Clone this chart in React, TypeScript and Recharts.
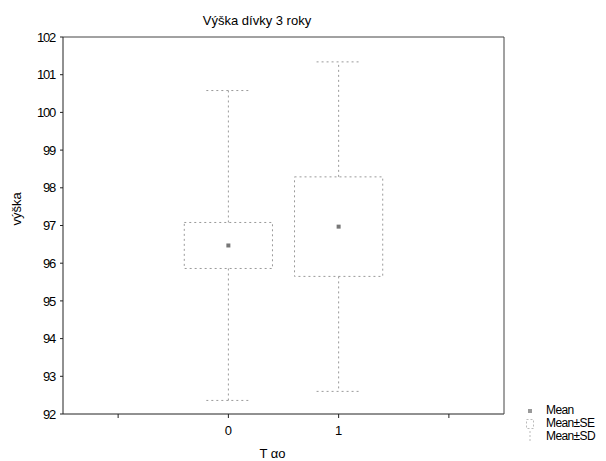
import React from 'react';
import { ComposedChart, XAxis, YAxis, Scatter, ReferenceArea, ReferenceLine } from 'recharts';

const categories = [0, 1];
const means = [96.47, 96.97];
const seValues = [0.61, 1.32];
const sdValues = [4.11, 4.37];
const yTicks = [92, 93, 94, 95, 96, 97, 98, 99, 100, 101, 102];
const xTicks = [-1, 0, 1, 2];
const xLabeled = [0, 1];
const legendItems = ['Mean', 'Mean±SE', 'Mean±SD'];

const rows = categories.map((c, i) => ({ x: c, mean: means[i], se: seValues[i], sd: sdValues[i] }));

const FONT = '"Liberation Sans", Arial, sans-serif';
const BOX_HALF = 0.4;
const CAP_HALF = 0.2;
const MARK = '#9a9a9a';

const MeanShape = (p: any) => (
  <rect x={p.cx - 2} y={p.cy - 2} width={4} height={4} fill="#777" />
);

const LegendIcon = ({ kind }: { kind: number }) => (
  <svg width={12} height={12} style={{ display: 'block' }}>
    {kind === 0 && <rect x={4} y={4} width={4} height={4} fill="#999" />}
    {kind === 1 && <rect x={2.5} y={1.5} width={7} height={9} fill="none" stroke="#bbb" strokeDasharray="2 2" />}
    {kind === 2 && <line x1={6} y1={0} x2={6} y2={12} stroke="#bbb" strokeDasharray="2 2" />}
  </svg>
);

export default function App() {
  return (
    <div style={{ position: 'absolute', left: 0, top: 0, width: 606, height: 461, background: '#fff', fontFamily: FONT }}>
      <ComposedChart width={606} height={461} data={rows} margin={{ top: 37, right: 102, bottom: 17, left: 17 }}>
        <XAxis
          xAxisId="b"
          type="number"
          dataKey="x"
          domain={[-1.5, 2.5]}
          ticks={xTicks}
          tickFormatter={(v: number) => (xLabeled.includes(v) ? String(v) : '')}
          allowDataOverflow
          height={30}
          stroke="#222"
          tickSize={4}
          tickMargin={8}
          tick={{ fill: '#000', fontSize: 13, fontFamily: FONT }}
          label={{ value: 'T αo', position: 'insideBottom', offset: -14, fill: '#000', fontSize: 13, fontFamily: FONT, dx: -11 }}
        />
        <XAxis
          xAxisId="t"
          orientation="top"
          type="number"
          dataKey="x"
          domain={[-1.5, 2.5]}
          ticks={xTicks}
          allowDataOverflow
          height={1}
          mirror
          tick={false}
          tickSize={4}
          stroke="#444"
        />
        <YAxis
          yAxisId="l"
          type="number"
          dataKey="mean"
          domain={[92, 102]}
          ticks={yTicks}
          allowDataOverflow
          width={46}
          stroke="#222"
          tickSize={3}
          tickMargin={5}
          interval={0}
          tick={{ fill: '#000', fontSize: 13, fontFamily: FONT, letterSpacing: -1.2 }}
          label={{ value: 'výška', angle: -90, position: 'insideLeft', offset: -1, fill: '#000', fontSize: 13, fontFamily: FONT }}
        />
        <YAxis
          yAxisId="r"
          orientation="right"
          type="number"
          domain={[92, 102]}
          ticks={yTicks}
          allowDataOverflow
          width={1}
          mirror
          tick={false}
          tickSize={4}
          stroke="#444"
        />
        {rows.map((r) => (
          <ReferenceArea
            key={'se' + r.x}
            xAxisId="b"
            yAxisId="l"
            x1={r.x - BOX_HALF}
            x2={r.x + BOX_HALF}
            y1={r.mean - r.se}
            y2={r.mean + r.se}
            fill="none"
            fillOpacity={0}
            stroke={MARK}
            strokeDasharray="2 3"
          />
        ))}
        {rows.map((r) => (
          <ReferenceLine
            key={'sdu' + r.x}
            xAxisId="b"
            yAxisId="l"
            segment={[{ x: r.x, y: r.mean + r.se }, { x: r.x, y: r.mean + r.sd }]}
            stroke={MARK}
            strokeDasharray="2 3"
          />
        ))}
        {rows.map((r) => (
          <ReferenceLine
            key={'sdl' + r.x}
            xAxisId="b"
            yAxisId="l"
            segment={[{ x: r.x, y: r.mean - r.se }, { x: r.x, y: r.mean - r.sd }]}
            stroke={MARK}
            strokeDasharray="2 3"
          />
        ))}
        {rows.map((r) => (
          <ReferenceLine
            key={'capu' + r.x}
            xAxisId="b"
            yAxisId="l"
            segment={[{ x: r.x - CAP_HALF, y: r.mean + r.sd }, { x: r.x + CAP_HALF, y: r.mean + r.sd }]}
            stroke={MARK}
            strokeDasharray="2 3"
          />
        ))}
        {rows.map((r) => (
          <ReferenceLine
            key={'capl' + r.x}
            xAxisId="b"
            yAxisId="l"
            segment={[{ x: r.x - CAP_HALF, y: r.mean - r.sd }, { x: r.x + CAP_HALF, y: r.mean - r.sd }]}
            stroke={MARK}
            strokeDasharray="2 3"
          />
        ))}
        <Scatter xAxisId="b" yAxisId="l" data={rows} dataKey="mean" shape={MeanShape} isAnimationActive={false} />
      </ComposedChart>
      <div style={{ position: 'absolute', left: 186, top: 13, width: 142, textAlign: 'center', fontSize: 13, color: '#000', whiteSpace: 'nowrap' }}>
        Výška dívky 3 roky
      </div>
      <div style={{ position: 'absolute', left: 524, top: 404, fontSize: 12, color: '#000', lineHeight: '13px' }}>
        {legendItems.map((t, i) => (
          <div key={t} style={{ display: 'flex', alignItems: 'center', height: 13 }}>
            <LegendIcon kind={i} />
            <span style={{ marginLeft: 10, letterSpacing: -0.6 }}>{t}</span>
          </div>
        ))}
      </div>
    </div>
  );
}
